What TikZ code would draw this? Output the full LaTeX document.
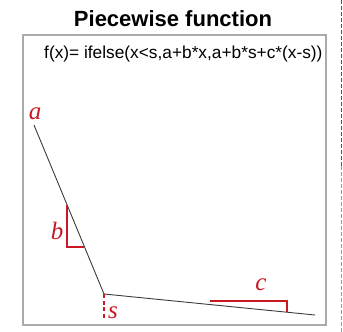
\documentclass[tikz,border=0pt]{standalone}
\usepackage{fontspec}
\setmainfont{Liberation Sans}
\newfontfamily\lblfont{Liberation Serif}
\definecolor{myred}{RGB}{200,24,36}
\definecolor{boxgray}{RGB}{170,170,170}
\definecolor{curvegray}{RGB}{60,60,60}
\begin{document}
\begin{tikzpicture}[x=1pt,y=-1pt,
  lbl/.style={text=myred,font=\lblfont\itshape\fontsize{25}{25}\selectfont,inner sep=0pt},
  bracket/.style={draw=myred,line width=2pt},
  curve/.style={draw=curvegray,line width=0.9pt}]
\fill[white] (0,0) rectangle (343,332);
\useasboundingbox (0,0) rectangle (343,332);
% title
\node[anchor=base,font=\bfseries\fontsize{22}{22}\selectfont,inner sep=0pt] (title) at (173,27) {Piecewise function};
% frame
\draw[boxgray,line width=1.3pt] (23,35) rectangle (326,325);
\node[anchor=base west,font=\fontsize{17.3}{17.3}\selectfont,inner sep=0pt] (formula) at (44,58) {f(x)= ifelse(x<s,a+b*x,a+b*s+c*(x-s))};
% curve
\coordinate (A) at (34,125);
\coordinate (V) at (104,294);
\coordinate (E) at (315,315);
\draw[curve] (A) -- (V) -- (E);
% b bracket
\coordinate (b1) at (67,205);
\coordinate (b2) at (67,247);
\coordinate (b3) at (84,247);
\draw[bracket] (b1) -- (b2) -- (b3);
% s dashed
\coordinate (s1) at (104,318);
\draw[myred,line width=2pt,dash pattern=on 4pt off 2.5pt] (V) -- (s1);
% c bracket
\coordinate (c1) at (210,301);
\coordinate (c2) at (287,301);
\coordinate (c3) at (287,312);
\draw[bracket] (c1) -- (c2) -- (c3);
% labels
\node[lbl] (la) at (35,114) {a};
\node[lbl] (lb) at (57,231) {b};
\node[lbl] (ls) at (113,313) {s};
\node[lbl] (lc) at (261,285) {c};
% right dashed separator
\coordinate (d0) at (341,0);
\coordinate (d1) at (341,166);
\coordinate (d2) at (341,332);
\draw[color={rgb,255:red,165;green,50;blue,50},line width=1pt,dash pattern=on 4pt off 2pt] (d0) -- (d1);
\draw[color={rgb,255:red,235;green,120;blue,120},line width=1pt,dash pattern=on 4pt off 2pt] (d1) -- (d2);
\end{tikzpicture}
\end{document}
